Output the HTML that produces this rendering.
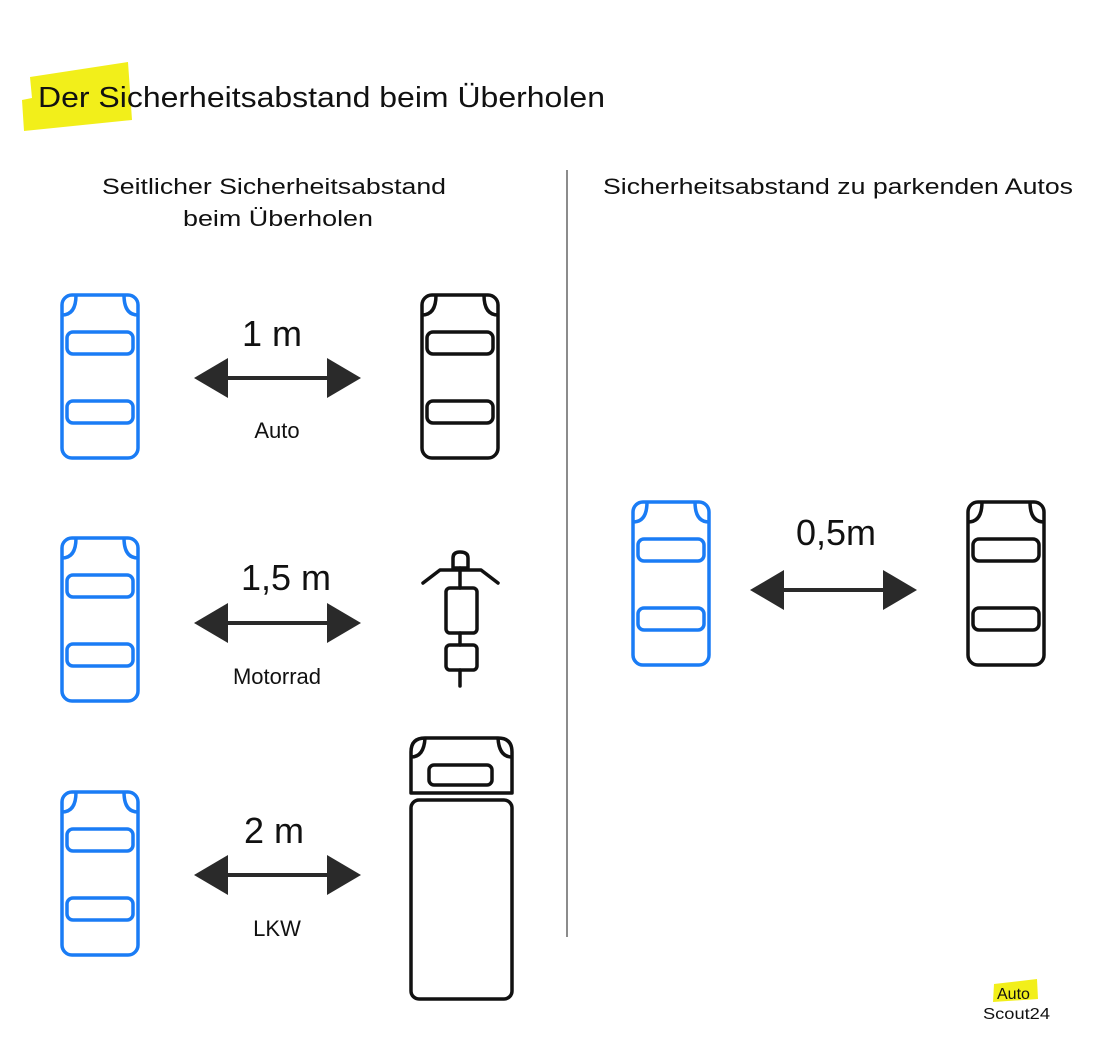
<!DOCTYPE html>
<html><head><meta charset="utf-8"><style>
html,body{margin:0;padding:0;background:#fff;}
svg{display:block;}
text{font-family:"Liberation Sans",sans-serif;fill:#111;}
</style></head><body>
<svg width="1100" height="1063" viewBox="0 0 1100 1063" xmlns="http://www.w3.org/2000/svg">
<defs>
<g id="car" fill="none" stroke-width="3.5" stroke-linejoin="round">
  <rect x="2" y="2" width="76" height="163" rx="10"/>
  <path d="M2 22 Q16 22 16 2"/>
  <path d="M78 22 Q64 22 64 2"/>
  <rect x="7" y="39" width="66" height="22" rx="6"/>
  <rect x="7" y="108" width="66" height="22" rx="6"/>
</g>
<g id="arrow" fill="#2a2a2a">
  <polygon points="0,0 34,-20 34,20"/>
  <polygon points="167,0 133,-20 133,20"/>
  <rect x="30" y="-2" width="107" height="4"/>
</g>
</defs>

<!-- title highlight -->
<polygon points="30,77 128,62 132,120 24,131 22,100 32,98" fill="#f2ef1a"/>
<text x="38" y="107" font-size="29" textLength="567" lengthAdjust="spacingAndGlyphs">Der Sicherheitsabstand beim Überholen</text>

<!-- subtitles -->
<text x="274" y="194" font-size="22" text-anchor="middle" textLength="344" lengthAdjust="spacingAndGlyphs">Seitlicher Sicherheitsabstand</text>
<text x="278" y="226" font-size="22" text-anchor="middle" textLength="190" lengthAdjust="spacingAndGlyphs">beim Überholen</text>
<text x="838" y="194" font-size="22" text-anchor="middle" textLength="470" lengthAdjust="spacingAndGlyphs">Sicherheitsabstand zu parkenden Autos</text>

<line x1="567" y1="170" x2="567" y2="937" stroke="#666" stroke-width="1.5"/>

<!-- blue cars -->
<use href="#car" x="60" y="293" stroke="#1a7cf5"/>
<use href="#car" x="60" y="536" stroke="#1a7cf5"/>
<use href="#car" x="60" y="790" stroke="#1a7cf5"/>
<use href="#car" x="631" y="500" stroke="#1a7cf5"/>
<!-- black cars -->
<use href="#car" x="420" y="293" stroke="#111"/>
<use href="#car" x="966" y="500" stroke="#111"/>

<!-- arrows -->
<use href="#arrow" x="194" y="378"/>
<use href="#arrow" x="194" y="623"/>
<use href="#arrow" x="194" y="875"/>
<use href="#arrow" x="750" y="590"/>

<!-- labels -->
<text x="272" y="346" font-size="36" text-anchor="middle">1 m</text>
<text x="277" y="438" font-size="22" text-anchor="middle">Auto</text>
<text x="286" y="590" font-size="36" text-anchor="middle">1,5 m</text>
<text x="277" y="684" font-size="22" text-anchor="middle">Motorrad</text>
<text x="274" y="843" font-size="36" text-anchor="middle">2 m</text>
<text x="277" y="936" font-size="22" text-anchor="middle">LKW</text>
<text x="836" y="545" font-size="36" text-anchor="middle">0,5m</text>

<!-- motorcycle -->
<g fill="none" stroke="#111" stroke-width="3.5" stroke-linejoin="round" stroke-linecap="round">
  <path d="M453 568 V558 Q453 552 460 552 Q468 552 468 558 V568 Z"/>
  <path d="M423 583 L440 570 L481 570 L498 583"/>
  <line x1="460" y1="568" x2="460" y2="588"/>
  <rect x="446" y="588" width="31" height="45" rx="4"/>
  <line x1="460" y1="633" x2="460" y2="645"/>
  <rect x="446" y="645" width="31" height="25" rx="4"/>
  <line x1="460" y1="670" x2="460" y2="686"/>
</g>

<!-- truck -->
<g fill="none" stroke="#111" stroke-width="3.5" stroke-linejoin="round">
  <path d="M411 793 V752 Q411 738 425 738 H498 Q512 738 512 752 V793 Z"/>
  <path d="M411 757 Q424 757 425 738"/>
  <path d="M512 757 Q499 757 498 738"/>
  <rect x="429" y="765" width="63" height="20" rx="5"/>
  <rect x="411" y="800" width="101" height="199" rx="8"/>
</g>

<!-- logo -->
<polygon points="994,984 1037,979 1038,999 993,1002" fill="#f2ef1a"/>
<text x="997" y="999" font-size="16">Auto</text>
<text x="983" y="1019" font-size="16" textLength="67" lengthAdjust="spacingAndGlyphs">Scout24</text>
</svg>
</body></html>
